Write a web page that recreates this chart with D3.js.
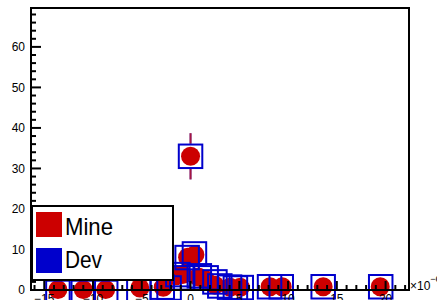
<!DOCTYPE html>
<html>
<head>
<meta charset="utf-8">
<script src="https://cdn.jsdelivr.net/npm/d3@7"></script>
<style>
  body { margin: 0; background: #fff; }
  svg { display: block; }
  text { font-family: "Liberation Sans", Arial, sans-serif; }
</style>
</head>
<body>
<div id="chart"></div>
<script>
// values in units of 1e-6 on x
var mineX = [-13.6, -11.0, -8.7, -5.2, -2.8, -1.5, -0.8, -0.3, 0.0, 0.45, 0.8, 1.5, 2.5, 4.05, 5.1, 8.15, 9.4, 13.6, 19.45];
var mineY = [0.1, 0.1, 0.1, 0.5, 0.7, 3.5, 3.8, 8.1, 33, 8.7, 3.2, 2.6, 1.2, 0.7, 0.7, 0.8, 0.8, 0.8, 0.8];
var mineErr = [0.3, 0.3, 0.3, 0.7, 0.8, 1.9, 1.9, 2.8, 5.7, 2.9, 1.8, 1.6, 1.1, 0.8, 0.8, 0.9, 0.9, 0.9, 0.9];

var devX = [-13.6, -11.0, -8.7, -5.3, -2.9, -2.2, -1.3, -0.9, -0.35, 0.0, 0.4, 0.9, 1.6, 2.5, 3.0, 4.0, 4.6, 5.2, 8.1, 9.3, 13.6, 19.5];
var devY = [-0.6, -0.6, -0.6, 0.0, 0.7, 0.5, 3.8, 3.0, 8.0, 33, 8.9, 3.5, 3.0, 2.0, 1.0, 0.7, 0.5, 0.6, 0.8, 0.8, 0.8, 0.8];
var devErr = [0.3, 0.3, 0.3, 0.5, 0.8, 0.7, 1.9, 1.7, 2.8, 5.7, 3.0, 1.9, 1.7, 1.4, 1.0, 0.8, 0.7, 0.8, 0.9, 0.9, 0.9, 0.9];

var xMajor = [-15, -10, -5, 0, 5, 10, 15, 20];
var xLabels = ["\u221215", "\u221210", "\u22125", "0", "5", "10", "15", "20"];
var xMinor = d3.range(-16, 23, 1);
var yMajor = [0, 10, 20, 30, 40, 50, 60];
var yMinor = d3.range(0, 70, 2);

var legendNames = ["Mine", "Dev"];
var legendColors = ["#cc0000", "#0000cc"];

var W = 437, H = 300;
var frame = {left: 31, right: 409, top: 8, bottom: 290};

var svg = d3.select("#chart").append("svg")
    .attr("width", W)
    .attr("height", H);

var x = d3.scaleLinear()
    .domain([-16.36, 22.4])
    .range([frame.left, frame.right]);

var y = d3.scaleLinear()
    .domain([0, 69.6])
    .range([frame.bottom, frame.top]);

// error bars (gap where the marker sits)
function errorBars(xs, ys, es, color, gap) {
  var g = svg.append("g").attr("stroke", color).attr("stroke-width", 2).attr("opacity", 0.7);
  xs.forEach(function(d, i) {
    var cy = y(ys[i]);
    var top = y(ys[i] + es[i]);
    var bot = y(ys[i] - es[i]);
    if (cy - top > gap) {
      g.append("line").attr("x1", x(d)).attr("x2", x(d)).attr("y1", top).attr("y2", cy - gap);
      g.append("line").attr("x1", x(d)).attr("x2", x(d)).attr("y1", cy + gap).attr("y2", bot);
    }
  });
}

errorBars(devX, devY, devErr, "#0000cc", 12.5);
errorBars(mineX, mineY, mineErr, "#cc0000", 12.5);

// Mine: full circles
svg.append("g").selectAll("circle")
    .data(mineX)
    .enter().append("circle")
    .attr("cx", function(d) { return x(d); })
    .attr("cy", function(d, i) { return y(mineY[i]); })
    .attr("r", 9.5)
    .attr("fill", "#cc0000");

// Dev: open squares
svg.append("g").selectAll("rect")
    .data(devX)
    .enter().append("rect")
    .attr("x", function(d) { return x(d) - 11.75; })
    .attr("y", function(d, i) { return y(devY[i]) - 11.75; })
    .attr("width", 23.5)
    .attr("height", 23.5)
    .attr("fill", "none")
    .attr("stroke", "#0000cc")
    .attr("stroke-width", 2);

// frame
svg.append("rect")
    .attr("x", frame.left)
    .attr("y", frame.top)
    .attr("width", frame.right - frame.left)
    .attr("height", frame.bottom - frame.top)
    .attr("fill", "none")
    .attr("stroke", "#000")
    .attr("stroke-width", 2);

// y axis ticks
var ya = svg.append("g").attr("stroke", "#000").attr("stroke-width", 2);
yMinor.forEach(function(v) {
  var len = (v % 10 === 0) ? 10 : 5;
  ya.append("line").attr("x1", frame.left).attr("x2", frame.left + len)
    .attr("y1", y(v)).attr("y2", y(v));
});
svg.append("g").selectAll("text")
    .data(yMajor)
    .enter().append("text")
    .attr("x", 25)
    .attr("y", function(d) { return y(d); })
    .attr("dy", "0.36em")
    .attr("text-anchor", "end")
    .attr("font-size", 12)
    .attr("fill", "#000")
    .text(function(d) { return d; });

// x axis ticks
var xa = svg.append("g").attr("stroke", "#000").attr("stroke-width", 2);
xMinor.forEach(function(v) {
  if (x(v) <= frame.left + 1 || x(v) >= frame.right - 1) return;
  var len = (v % 5 === 0) ? 9 : 5;
  xa.append("line").attr("x1", x(v)).attr("x2", x(v))
    .attr("y1", frame.bottom).attr("y2", frame.bottom - len);
});
svg.append("g").selectAll("text")
    .data(xMajor)
    .enter().append("text")
    .attr("x", function(d) { return x(d); })
    .attr("y", 303)
    .attr("text-anchor", "middle")
    .attr("font-size", 12)
    .attr("fill", "#000")
    .text(function(d, i) { return xLabels[i]; });

var exp = svg.append("text")
    .attr("x", 410)
    .attr("y", 290)
    .attr("font-size", 12)
    .attr("fill", "#000");
exp.append("tspan").text("\u00d710");
exp.append("tspan").attr("font-size", 9).attr("dy", -8).text("\u22126");

// legend
var lg = svg.append("g");
lg.append("rect")
    .attr("x", 32)
    .attr("y", 206)
    .attr("width", 141)
    .attr("height", 74)
    .attr("fill", "#fff")
    .attr("stroke", "#000")
    .attr("stroke-width", 2);
legendNames.forEach(function(name, i) {
  lg.append("rect")
      .attr("x", 36)
      .attr("y", 212 + i * 36)
      .attr("width", 26)
      .attr("height", 25)
      .attr("fill", legendColors[i]);
  lg.append("text")
      .attr("x", 65)
      .attr("y", 235 + i * 33)
      .attr("font-size", 24)
      .attr("textLength", i === 0 ? 48 : 37)
      .attr("lengthAdjust", "spacingAndGlyphs")
      .attr("fill", "#000")
      .text(name);
});
</script>
</body>
</html>
